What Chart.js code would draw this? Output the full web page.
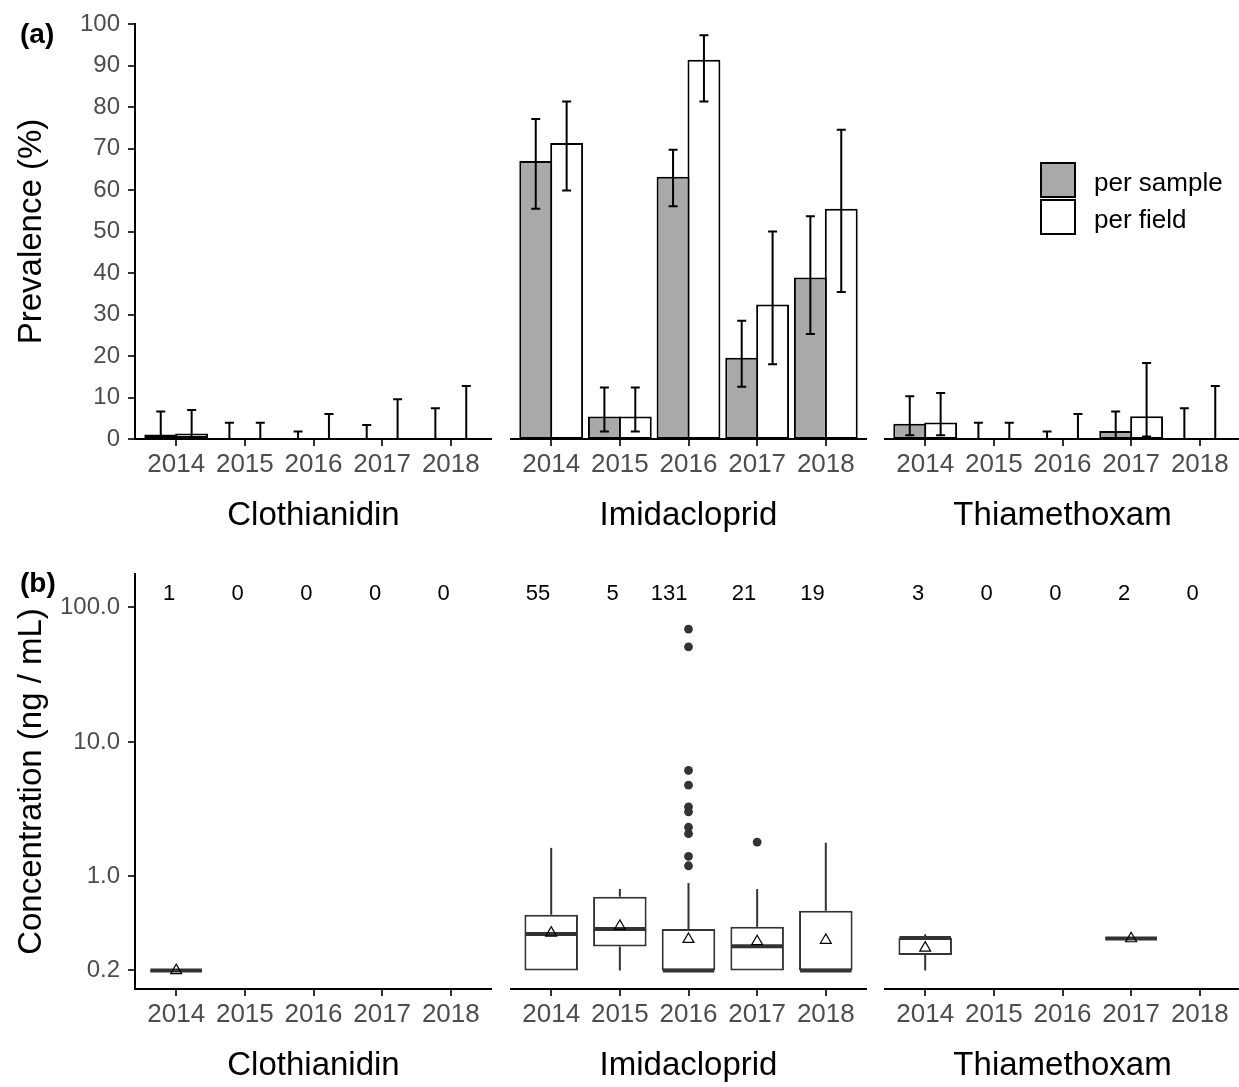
<!DOCTYPE html>
<html><head><meta charset="utf-8">
<script src="https://cdn.jsdelivr.net/npm/chart.js@4.4.1/dist/chart.umd.min.js"></script>
<style>
html,body{margin:0;padding:0;background:#fff;overflow:hidden;width:1239px;height:1087px;}
#wrap{position:relative;width:1239px;height:1087px;overflow:hidden;font-family:'Liberation Sans',Arial,sans-serif;}
canvas{position:absolute;}
.plab{position:absolute;font-weight:bold;font-size:28px;line-height:1;color:#000;}
.key{position:absolute;box-sizing:border-box;width:36px;height:36px;border:2px solid #000;}
.ktxt{position:absolute;font-size:26px;line-height:1;color:#000;white-space:nowrap;}
</style></head><body>
<div id="wrap">
<canvas id="a1" width="492" height="540" style="left:0px;top:0px"></canvas>
<canvas id="a2" width="357" height="540" style="left:510px;top:0px"></canvas>
<canvas id="a3" width="357" height="540" style="left:884px;top:0px"></canvas>
<canvas id="b1" width="492" height="540" style="left:0px;top:550px"></canvas>
<canvas id="b2" width="357" height="540" style="left:510px;top:550px"></canvas>
<canvas id="b3" width="357" height="540" style="left:884px;top:550px"></canvas>
<div class="plab" style="left:20px;top:20px">(a)</div>
<div class="plab" style="left:20px;top:569px">(b)</div>
<div class="key" style="left:1040px;top:162px;background:#A9A9A9"></div>
<div class="key" style="left:1040px;top:199px;background:#FFFFFF"></div>
<div class="ktxt" id="leg1" style="left:1094px;top:169px"></div>
<div class="ktxt" id="leg2" style="left:1094px;top:206px"></div>
</div>
<script>
// ---------- data ----------
const years = [2014, 2015, 2016, 2017, 2018];
const pesticides = ['Clothianidin', 'Imidacloprid', 'Thiamethoxam'];
const seriesNames = ['per sample', 'per field'];

// (a) prevalence (%) with confidence limits
const clothSample   = [1.1, 0, 0, 0, 0];
const clothSampleLo = [0, 0, 0, 0, 0];
const clothSampleHi = [6.6, 3.9, 1.8, 3.4, 7.4];
const clothField    = [1.3, 0, 0, 0, 0];
const clothFieldLo  = [0, 0, 0, 0, 0];
const clothFieldHi  = [7.0, 3.9, 6.0, 9.6, 12.8];

const imidSample   = [67.0, 5.4, 63.2, 19.6, 38.9];
const imidSampleLo = [55.5, 1.8, 56.1, 12.6, 25.3];
const imidSampleHi = [77.1, 12.4, 69.7, 28.5, 53.7];
const imidField    = [71.3, 5.4, 91.4, 32.4, 55.5];
const imidFieldLo  = [59.9, 1.8, 81.3, 18.0, 35.4];
const imidFieldHi  = [81.3, 12.4, 97.3, 50.0, 74.5];

const thiaSample   = [3.7, 0, 0, 1.9, 0];
const thiaSampleLo = [0.9, 0, 0, 0, 0];
const thiaSampleHi = [10.3, 3.9, 1.8, 6.6, 7.4];
const thiaField    = [4.0, 0, 0, 5.5, 0];
const thiaFieldLo  = [0.9, 0, 0, 0.6, 0];
const thiaFieldHi  = [11.1, 3.9, 6.0, 18.3, 12.8];

// (b) concentration (ng/mL) box plot statistics
const clothCounts = [1, 0, 0, 0, 0];
const clothWLo  = [0.2, null, null, null, null];
const clothQ1   = [0.2, null, null, null, null];
const clothMed  = [0.2, null, null, null, null];
const clothQ3   = [0.2, null, null, null, null];
const clothWHi  = [0.2, null, null, null, null];
const clothMean = [0.2, null, null, null, null];

const imidCounts = [55, 5, 131, 21, 19];
const imidWLo  = [0.2, 0.2, 0.2, 0.2, 0.2];
const imidQ1   = [0.2, 0.301, 0.2, 0.2, 0.2];
const imidMed  = [0.374, 0.406, 0.2, 0.303, 0.2];
const imidQ3   = [0.519, 0.706, 0.406, 0.422, 0.555];
const imidWHi  = [1.63, 0.805, 0.893, 0.805, 1.78];
const imidMean = [0.38, 0.427, 0.341, 0.328, 0.336];
const imidOutlierYears  = [2016, 2016, 2016, 2016, 2016, 2016, 2016, 2016, 2016, 2016, 2017];
const imidOutlierValues = [68.9, 50.9, 6.13, 4.77, 3.29, 3.02, 2.32, 2.08, 1.41, 1.20, 1.80];

const thiaCounts = [3, 0, 0, 2, 0];
const thiaWLo  = [0.2, null, null, 0.345, null];
const thiaQ1   = [0.261, null, null, 0.345, null];
const thiaMed  = [0.349, null, null, 0.345, null];
const thiaQ3   = [0.349, null, null, 0.345, null];
const thiaWHi  = [0.372, null, null, 0.345, null];
const thiaMean = [0.294, null, null, 0.345, null];

const prevTicksStep = 10;
const concTicks = [0.2, 1, 10, 100];
const concAxisMin = 0.1456, concAxisMax = 177;
const countLabelLevel = 125;

// ---------- styling ----------
const FONT = "'Liberation Sans', Arial, sans-serif";
const TICKCOL = '#4D4D4D';
document.getElementById('leg1').textContent = seriesNames[0];
document.getElementById('leg2').textContent = seriesNames[1];

function xAxis(title) {
  return {
    type: 'linear', min: years[0] - 0.6, max: years[years.length - 1] + 0.6,
    offset: false, bounds: 'data',
    grid: { display: true, drawOnChartArea: false, drawTicks: true, tickLength: 7, color: '#333333', lineWidth: 2, offset: false },
    border: { display: true, color: '#000', width: 2 },
    ticks: { color: TICKCOL, font: { family: FONT, size: 26 }, padding: 3.5, autoSkip: false, maxRotation: 0, minRotation: 0,
             callback: v => String(v) },
    afterBuildTicks: s => { s.ticks = years.map(v => ({ value: v })); },
    title: { display: true, text: title, color: '#000', font: { family: FONT, size: 33 }, padding: { top: 0, bottom: 4 } },
    afterFit: s => { s.height = 101; }
  };
}

function yCommon(showY, title) {
  return {
    display: showY, bounds: 'data',
    grid: { display: true, drawOnChartArea: false, drawTicks: true, tickLength: 7, color: '#333333', lineWidth: 2 },
    border: { display: true, color: '#000', width: 2 },
    title: { display: true, text: title, color: '#000', font: { family: FONT, size: 33 }, padding: { top: 12, bottom: 0 } },
    afterFit: s => { s.width = showY ? 135 : 0; }
  };
}

const errorBarPlugin = {
  id: 'errorBars',
  afterDatasetsDraw(chart) {
    const ctx = chart.ctx, ys = chart.scales.y;
    ctx.save();
    ctx.strokeStyle = '#000'; ctx.lineWidth = 2;
    chart.data.datasets.forEach((ds, i) => {
      const meta = chart.getDatasetMeta(i);
      meta.data.forEach((el, j) => {
        const x = el.x;
        const y1 = ys.getPixelForValue(ds.errLo[j]);
        const y2 = ys.getPixelForValue(ds.errHi[j]);
        ctx.beginPath();
        ctx.moveTo(x, y1); ctx.lineTo(x, y2);
        ctx.moveTo(x - 4.5, y1); ctx.lineTo(x + 4.5, y1);
        ctx.moveTo(x - 4.5, y2); ctx.lineTo(x + 4.5, y2);
        ctx.stroke();
      });
    });
    ctx.restore();
  }
};

function prevChart(id, name, s, sLo, sHi, f, fLo, fHi, showY) {
  const barCommon = { borderColor: '#000', borderWidth: 2, borderSkipped: false, categoryPercentage: 0.9, barPercentage: 1.065, inflateAmount: 0 };
  const yOpt = Object.assign(yCommon(showY, 'Prevalence (%)'), {
    type: 'linear', min: 0, max: 100,
    ticks: { stepSize: prevTicksStep, color: TICKCOL, font: { family: FONT, size: 24 }, padding: 8 }
  });
  return new Chart(document.getElementById(id), {
    type: 'bar',
    data: {
      datasets: [
        Object.assign({ label: seriesNames[0], data: years.map((x, i) => ({ x: x, y: s[i] })), errLo: sLo, errHi: sHi, backgroundColor: '#A9A9A9' }, barCommon),
        Object.assign({ label: seriesNames[1], data: years.map((x, i) => ({ x: x, y: f[i] })), errLo: fLo, errHi: fHi, backgroundColor: '#FFFFFF' }, barCommon)
      ]
    },
    options: {
      responsive: false, animation: false,
      layout: { autoPadding: false, padding: { top: 24, left: 0, right: 0, bottom: 0 } },
      plugins: { legend: { display: false }, tooltip: { enabled: false } },
      scales: { x: xAxis(name), y: yOpt }
    },
    plugins: [errorBarPlugin]
  });
}

const boxPartsPlugin = {
  id: 'boxParts',
  afterDatasetDraw(chart, args) {
    if (args.meta.type !== 'bar') return;
    const ds = chart.data.datasets[args.index];
    const ctx = chart.ctx, ys = chart.scales.y;
    ctx.save();
    ctx.strokeStyle = '#333333';
    args.meta.data.forEach((el, j) => {
      if (ds.med[j] == null) return;
      const x = el.x, hw = el.width / 2 - 1;
      ctx.lineWidth = 2;
      ctx.beginPath();
      ctx.moveTo(x, ys.getPixelForValue(ds.q3[j])); ctx.lineTo(x, ys.getPixelForValue(ds.wHi[j]));
      ctx.moveTo(x, ys.getPixelForValue(ds.q1[j])); ctx.lineTo(x, ys.getPixelForValue(ds.wLo[j]));
      ctx.stroke();
      if (ds.q1[j] === ds.q3[j]) {
        ctx.lineWidth = 2;
        ctx.beginPath();
        const yq = ys.getPixelForValue(ds.q1[j]);
        ctx.moveTo(x - hw, yq); ctx.lineTo(x + hw, yq);
        ctx.stroke();
      }
      ctx.lineWidth = 4;
      ctx.beginPath();
      const ym = ys.getPixelForValue(ds.med[j]);
      ctx.moveTo(x - hw, ym); ctx.lineTo(x + hw, ym);
      ctx.stroke();
    });
    ctx.restore();
  }
};

const countPlugin = {
  id: 'countLabels',
  afterDraw(chart, args, opts) {
    const ctx = chart.ctx, xs = chart.scales.x, ys = chart.scales.y;
    ctx.save();
    ctx.font = '22px ' + FONT; ctx.fillStyle = '#000';
    ctx.textAlign = 'right'; ctx.textBaseline = 'middle';
    opts.counts.forEach((n, j) => {
      ctx.fillText(String(n), xs.getPixelForValue(years[j]) - 1, ys.getPixelForValue(countLabelLevel));
    });
    ctx.restore();
  }
};

function concChart(id, name, counts, wLo, q1, med, q3, wHi, mean, outYears, outVals, showY) {
  const yOpt = Object.assign(yCommon(showY, 'Concentration (ng / mL)'), {
    type: 'logarithmic', min: concAxisMin, max: concAxisMax,
    afterBuildTicks: s => { s.ticks = concTicks.map(v => ({ value: v })); },
    ticks: { color: TICKCOL, font: { family: FONT, size: 24 }, padding: 8, autoSkip: false, callback: v => Number(v).toFixed(1) }
  });
  return new Chart(document.getElementById(id), {
    type: 'bar',
    data: {
      datasets: [
        { type: 'bar', label: 'box', order: 3,
          data: years.map((x, i) => ({ x: x, y: q1[i] == null ? null : [q1[i], q3[i]] })),
          q1: q1, q3: q3, med: med, wLo: wLo, wHi: wHi,
          backgroundColor: '#FFFFFF', borderColor: '#333333', borderWidth: 2, borderSkipped: false,
          categoryPercentage: 0.75, barPercentage: 1.04, inflateAmount: 0 },
        { type: 'scatter', label: 'outliers', order: 2,
          data: outYears.map((x, i) => ({ x: x, y: outVals[i] })),
          pointStyle: 'circle', pointRadius: 4.4, pointBackgroundColor: '#333333', pointBorderWidth: 0, showLine: false },
        { type: 'scatter', label: 'mean', order: 1,
          data: years.map((x, i) => ({ x: x, y: mean[i] })).filter(p => p.y != null),
          pointStyle: 'triangle', pointRadius: 6.3, pointBackgroundColor: 'rgba(255,255,255,0)', pointBorderColor: '#000', pointBorderWidth: 1.2, showLine: false }
      ]
    },
    options: {
      responsive: false, animation: false,
      layout: { autoPadding: false, padding: { top: 24, left: 0, right: 0, bottom: 0 } },
      plugins: { legend: { display: false }, tooltip: { enabled: false }, countLabels: { counts: counts } },
      scales: { x: xAxis(name), y: yOpt }
    },
    plugins: [boxPartsPlugin, countPlugin]
  });
}

prevChart('a1', pesticides[0], clothSample, clothSampleLo, clothSampleHi, clothField, clothFieldLo, clothFieldHi, true);
prevChart('a2', pesticides[1], imidSample, imidSampleLo, imidSampleHi, imidField, imidFieldLo, imidFieldHi, false);
prevChart('a3', pesticides[2], thiaSample, thiaSampleLo, thiaSampleHi, thiaField, thiaFieldLo, thiaFieldHi, false);

concChart('b1', pesticides[0], clothCounts, clothWLo, clothQ1, clothMed, clothQ3, clothWHi, clothMean, [], [], true);
concChart('b2', pesticides[1], imidCounts, imidWLo, imidQ1, imidMed, imidQ3, imidWHi, imidMean, imidOutlierYears, imidOutlierValues, false);
concChart('b3', pesticides[2], thiaCounts, thiaWLo, thiaQ1, thiaMed, thiaQ3, thiaWHi, thiaMean, [], [], false);
</script>
</body></html>
